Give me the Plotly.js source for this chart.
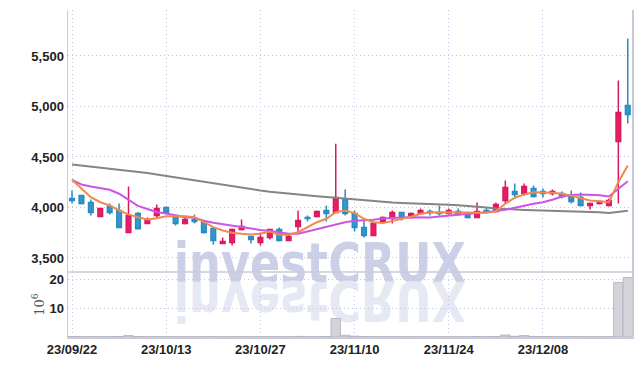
<!DOCTYPE html>
<html><head><meta charset="utf-8">
<script src="https://cdn.plot.ly/plotly-3.0.1.min.js"></script>
<style>html,body{margin:0;padding:0;background:#fff}#chart{width:642px;height:366px}</style>
</head><body><div id="chart"></div>
<script>
const dates = ['23/09/22','23/09/25','23/09/26','23/09/27','23/10/04','23/10/05','23/10/06','23/10/10','23/10/11','23/10/12',
'23/10/13','23/10/16','23/10/17','23/10/18','23/10/19','23/10/20','23/10/23','23/10/24','23/10/25','23/10/26',
'23/10/27','23/10/30','23/10/31','23/11/01','23/11/02','23/11/03','23/11/06','23/11/07','23/11/08','23/11/09',
'23/11/10','23/11/13','23/11/14','23/11/15','23/11/16','23/11/17','23/11/20','23/11/21','23/11/22','23/11/23',
'23/11/24','23/11/27','23/11/28','23/11/29','23/11/30','23/12/01','23/12/04','23/12/05','23/12/06','23/12/07',
'23/12/08','23/12/11','23/12/12','23/12/13','23/12/14','23/12/15','23/12/18','23/12/19','23/12/20','23/12/21'];
const openP = [4089,4119,4050,3911,4010,3970,3752,3941,3842,3921,
4000,3921,3842,3882,3852,3792,3644,3653,3782,3713,
3653,3703,3782,3673,3812,3901,3911,3970,3950,4079,
3941,3802,3723,3862,3891,3950,3901,3941,3960,3950,
3941,3960,3931,3901,3970,3960,4069,4158,4139,4188,
4158,4139,4139,4119,4099,4020,4040,4020,4653,5010];
const highP = [4168,4119,4079,3990,4040,4040,4208,3955,3900,4030,
4010,3921,3900,3931,3852,3802,3703,3792,3882,3713,
3752,3782,3802,3743,3970,3921,3970,4020,4631,4178,
3970,3871,3842,3911,3970,3950,3950,3990,3980,4020,
3990,3990,3941,4050,4000,4050,4267,4238,4238,4218,
4188,4178,4158,4168,4149,4050,4069,4089,5257,5673];
const lowP = [4040,4030,3921,3911,3931,3802,3752,3782,3842,3900,
3940,3822,3832,3842,3743,3634,3644,3624,3772,3644,
3624,3683,3663,3673,3752,3862,3901,3862,3950,3921,
3762,3703,3723,3852,3842,3871,3891,3941,3921,3921,
3931,3921,3891,3901,3941,3950,4040,4089,4119,4099,
4099,4119,4089,4040,4010,3980,4030,4010,4040,4832];
const closeP = [4069,4040,3950,3990,3950,3802,3921,3790,3882,3990,
3950,3842,3882,3862,3752,3673,3663,3782,3812,3683,
3703,3782,3673,3713,3871,3891,3960,3941,4099,3941,
3802,3723,3842,3901,3950,3901,3941,3970,3950,3941,
3970,3941,3901,3960,3960,4030,4198,4129,4208,4109,
4139,4158,4109,4059,4020,4040,4059,4069,4941,4921];
const maShort = [4274,4185,4102,4052,4020,3970,3931,3904,3881,3894,
3913,3914,3914,3904,3854,3805,3772,3750,3740,3733,
3740,3762,3730,3730,3755,3805,3854,3888,3953,3970,
3944,3888,3854,3845,3864,3888,3908,3938,3950,3953,
3953,3953,3948,3948,3948,3963,4037,4096,4129,4151,
4151,4146,4136,4119,4092,4069,4062,4052,4250,4416];
const maMid = [4274,4228,4208,4195,4175,4136,4076,4015,3985,3955,
3941,3921,3904,3898,3868,3849,3834,3819,3805,3789,
3777,3767,3755,3740,3740,3762,3789,3809,3829,3854,
3868,3873,3878,3891,3898,3901,3904,3904,3901,3911,
3921,3931,3941,3946,3953,3963,3977,3997,4020,4037,
4052,4076,4109,4124,4129,4126,4122,4109,4185,4260];
const maLong = [4426,4416,4406,4396,4386,4376,4366,4353,4342,4327,
4312,4297,4282,4267,4252,4238,4223,4208,4193,4181,
4168,4156,4146,4136,4127,4119,4111,4104,4096,4087,
4079,4069,4061,4054,4050,4045,4040,4037,4034,4030,
4027,4023,4017,4010,4000,3990,3983,3978,3975,3972,
3970,3967,3965,3962,3960,3957,3952,3946,3955,3967];
const volume = [0.15,0.1,0.12,0.1,0.1,0.15,0.5,0.15,0.1,0.12,
0.1,0.1,0.08,0.08,0.1,0.12,0.08,0.1,0.1,0.08,
0.1,0.1,0.1,0.08,0.2,0.1,0.1,0.15,6.4,0.6,
0.3,0.15,0.12,0.1,0.1,0.08,0.08,0.08,0.08,0.08,
0.08,0.08,0.08,0.15,0.1,0.15,0.7,0.25,0.5,0.2,
0.15,0.12,0.1,0.12,0.1,0.08,0.08,0.1,18.9,20.6];
const priceTicks = [3500,4000,4500,5000,5500];
const volTicks = [10,20];
const xTicks = ['23/09/22','23/10/13','23/10/27','23/11/10','23/11/24','23/12/08'];
const watermark = 'investCRUX';

const tickFont = {family:'"Liberation Sans",Arial,sans-serif', size:13, color:'#222', weight:'bold'};
const gridC = '#c3c6dc';
const axisC = '#cacad8';
const gdash = '1px,3px';

const data = [
  {type:'bar', x:dates, y:volume, xaxis:'x', yaxis:'y',
   marker:{color:'#d3d3da', line:{color:'#aeaeba', width:0.8}}, hoverinfo:'skip'},
  {type:'candlestick', x:dates, open:openP, high:highP, low:lowP, close:closeP, xaxis:'x', yaxis:'y2',
   increasing:{line:{color:'#d81b60', width:1.5}, fillcolor:'#e91e63'},
   decreasing:{line:{color:'#2a8cc2', width:1.5}, fillcolor:'#3399cc'}, whiskerwidth:0},
  {type:'scatter', mode:'lines', x:dates, y:maLong, xaxis:'x', yaxis:'y2', line:{color:'#858585', width:2}},
  {type:'scatter', mode:'lines', x:dates, y:maMid, xaxis:'x', yaxis:'y2', line:{color:'#cc55e6', width:2}},
  {type:'scatter', mode:'lines', x:dates, y:maShort, xaxis:'x', yaxis:'y2', line:{color:'#f08a4e', width:2}}
];

const split = 65/327;
const wmFont = {family:'"DejaVu Sans Condensed","DejaVu Sans",sans-serif', size:56, weight:'bold'};
const layout = {
  width:642, height:366, showlegend:false,
  margin:{l:68, r:10, t:10, b:29},
  paper_bgcolor:'#fff', plot_bgcolor:'rgba(0,0,0,0)',
  bargap:0,
  xaxis:{type:'category', range:[-0.425, 59.45], anchor:'y', tickmode:'array', tickvals:xTicks, ticktext:xTicks,
    showgrid:true, gridcolor:gridC, griddash:gdash, gridwidth:1, showline:true, linecolor:axisC, linewidth:1.5,
    ticks:'', tickfont:tickFont, rangeslider:{visible:false}, zeroline:false},
  yaxis:{domain:[0, split], range:[0, 22.5], tickmode:'array', tickvals:volTicks, anchor:'x',
    showgrid:true, gridcolor:gridC, griddash:gdash, showline:true, mirror:true, linecolor:axisC, linewidth:1.5,
    ticks:'', tickfont:tickFont, zeroline:false,
    title:{text:'10<sup>6</sup>', font:{family:'"DejaVu Serif",serif', size:13, color:'#555'}, standoff:2}},
  yaxis2:{domain:[split, 1], range:[3361, 5955], tickmode:'array', tickvals:priceTicks, tickformat:',', anchor:'x',
    showgrid:true, gridcolor:gridC, griddash:gdash, showline:true, mirror:true, linecolor:axisC, linewidth:1.5,
    ticks:'', tickfont:tickFont, zeroline:false},
  shapes:[{type:'line', xref:'paper', yref:'paper', x0:0, x1:1, y0:split, y1:split, line:{color:axisC, width:1.5}}],
  annotations:[
    {text:watermark, xref:'paper', yref:'paper', x:0.446, y:0.123, xanchor:'center', yanchor:'bottom', showarrow:false,
     font:Object.assign({color:'#cbd0e7'}, wmFont)},
    {text:watermark, xref:'paper', yref:'paper', x:0.446, y:0.123, xanchor:'center', yanchor:'bottom', showarrow:false,
     font:Object.assign({color:'#e6e8f3'}, wmFont)}
  ]
};

Plotly.newPlot('chart', data, layout, {displayModeBar:false, staticPlot:true}).then(function(gd){
  const anns = gd.querySelectorAll('g.annotation');
  if (anns.length < 2) return;
  const main = anns[0], refl = anns[1];
  const t = refl.querySelector('text');
  let base, cx;
  try {
    const m = refl.getCTM().inverse().multiply(t.getCTM());
    const yb = parseFloat(t.getAttribute('y')) || 0;
    const xb = parseFloat(t.getAttribute('x')) || 0;
    const p = new DOMPoint(xb, yb).matrixTransform(m);
    base = p.y;
  } catch(e) {
    const bb = refl.getBBox();
    base = bb.y + bb.height*0.78;
  }
  const bb2 = main.getBBox();
  cx = bb2.x + bb2.width/2;
  const sx = 0.886;
  main.setAttribute('transform', 'translate(' + (cx*(1-sx)) + ',0) scale(' + sx + ',1)');
  refl.setAttribute('transform', 'translate(' + (cx*(1-sx)) + ',' + (2*base) + ') scale(' + sx + ',-1)');
  const below = gd.querySelector('.layer-below');
  if (below) { below.appendChild(main); below.appendChild(refl); }
});
</script></body></html>
